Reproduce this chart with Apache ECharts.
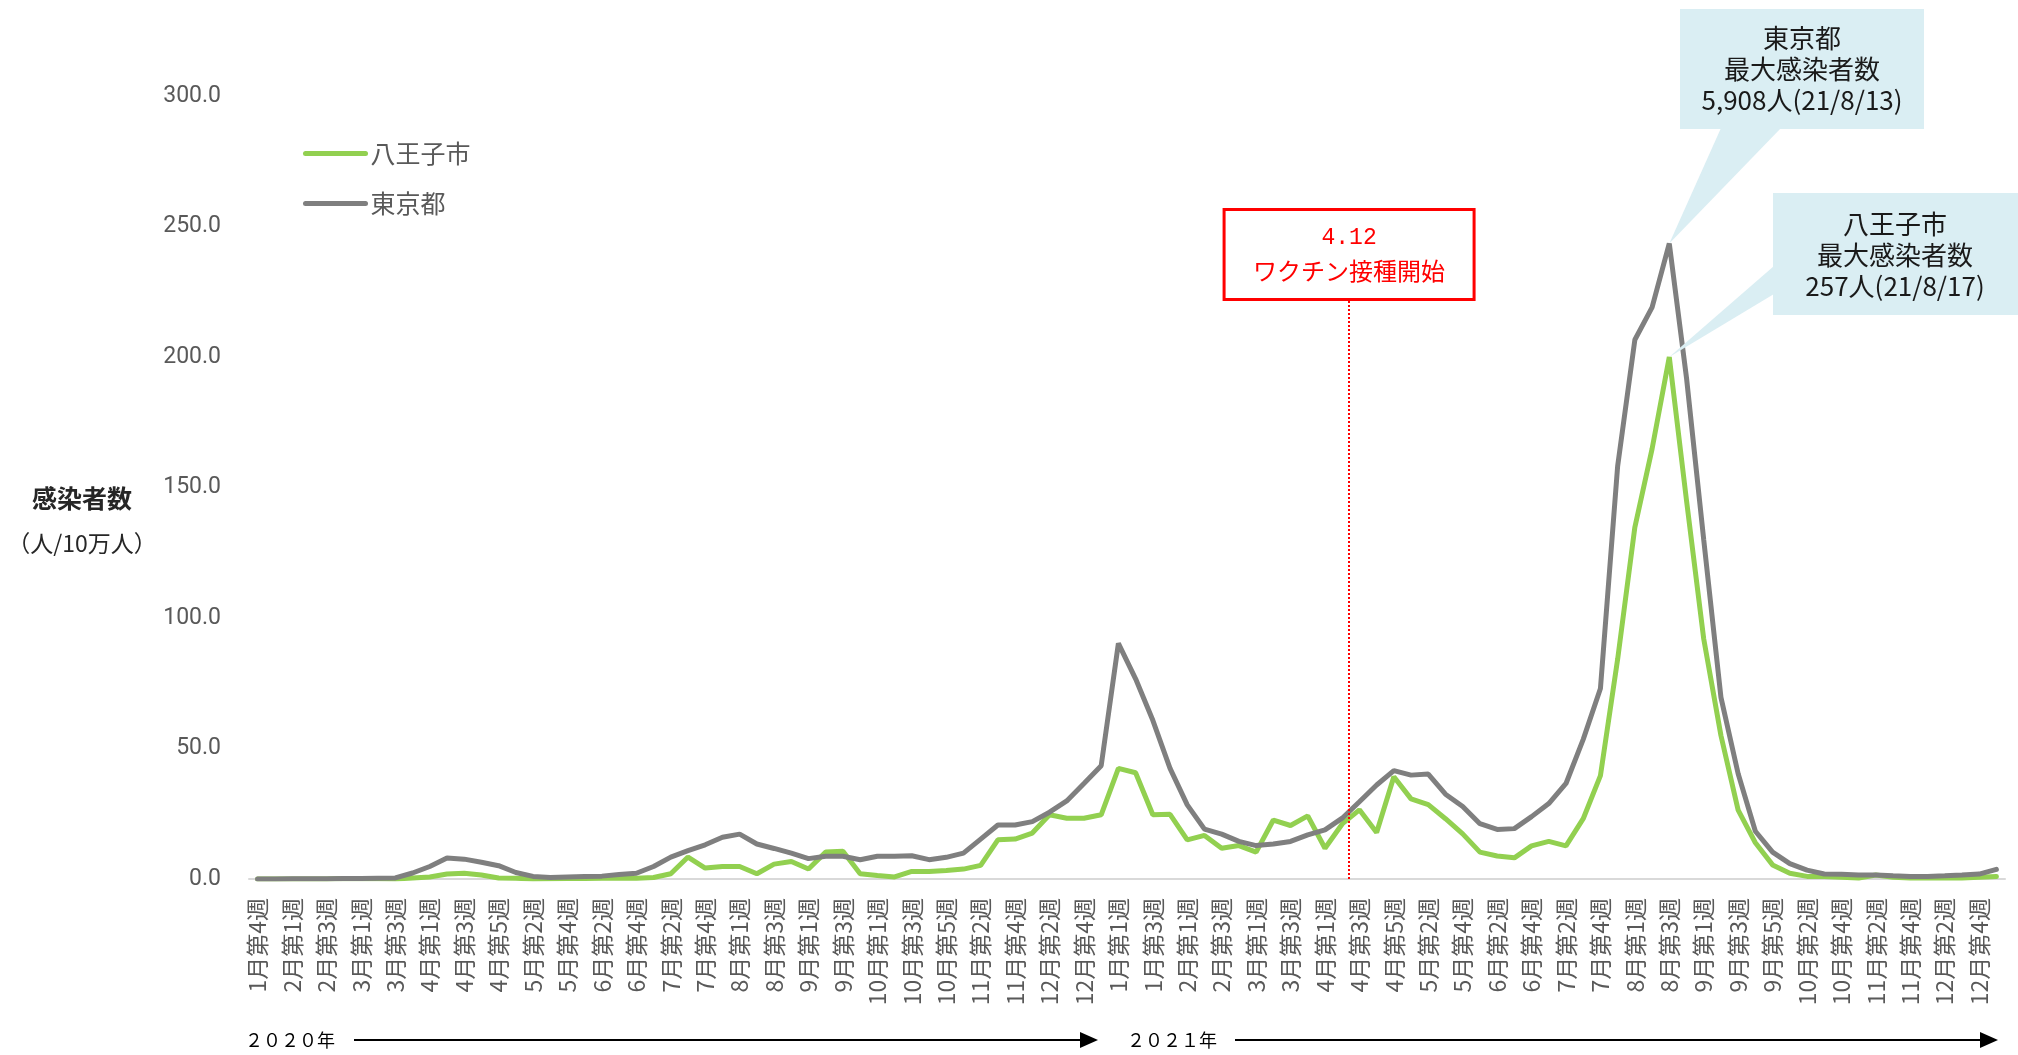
<!DOCTYPE html>
<html>
<head>
<meta charset="utf-8">
<script src="https://cdn.jsdelivr.net/npm/echarts@6/dist/echarts.min.js"></script>
<style>
  html, body { margin: 0; padding: 0; background: #fff; }
  #chart { width: 2018px; height: 1055px; }
</style>
</head>
<body>
<div id="chart"></div>
<script>
// weekly categories (every other one is labelled on the axis)
var weeks2020 = [
  "1月第4週", "1月第5週", "2月第1週", "2月第2週", "2月第3週", "2月第4週",
  "3月第1週", "3月第2週", "3月第3週", "3月第4週",
  "4月第1週", "4月第2週", "4月第3週", "4月第4週", "4月第5週",
  "5月第1週", "5月第2週", "5月第3週", "5月第4週",
  "6月第1週", "6月第2週", "6月第3週", "6月第4週",
  "7月第1週", "7月第2週", "7月第3週", "7月第4週", "7月第5週",
  "8月第1週", "8月第2週", "8月第3週", "8月第4週",
  "9月第1週", "9月第2週", "9月第3週", "9月第4週",
  "10月第1週", "10月第2週", "10月第3週", "10月第4週", "10月第5週",
  "11月第1週", "11月第2週", "11月第3週", "11月第4週",
  "12月第1週", "12月第2週", "12月第3週", "12月第4週", "12月第5週"
];
var weeks2021 = [
  "1月第1週", "1月第2週", "1月第3週", "1月第4週",
  "2月第1週", "2月第2週", "2月第3週", "2月第4週",
  "3月第1週", "3月第2週", "3月第3週", "3月第4週",
  "4月第1週", "4月第2週", "4月第3週", "4月第4週", "4月第5週",
  "5月第1週", "5月第2週", "5月第3週", "5月第4週",
  "6月第1週", "6月第2週", "6月第3週", "6月第4週",
  "7月第1週", "7月第2週", "7月第3週", "7月第4週", "7月第5週",
  "8月第1週", "8月第2週", "8月第3週", "8月第4週",
  "9月第1週", "9月第2週", "9月第3週", "9月第4週", "9月第5週",
  "10月第1週", "10月第2週", "10月第3週", "10月第4週",
  "11月第1週", "11月第2週", "11月第3週", "11月第4週",
  "12月第1週", "12月第2週", "12月第3週", "12月第4週", "12月第5週"
];

// infections per 100,000 people
var hachioji = [
  0, 0, 0, 0, 0, 0.2, 0.1, 0.1, 0, 0.4,
  0.8, 1.9, 2.2, 1.5, 0.4, 0.3, 0, 0.1, 0.2, 0.2,
  0.3, 0.3, 0.3, 0.6, 2.0, 8.4, 4.2, 4.8, 4.8, 2.0,
  5.7, 6.7, 3.8, 10.3, 10.6, 2.0, 1.3, 0.8, 2.9, 2.9,
  3.3, 3.8, 5.2, 15.0, 15.3, 17.6, 24.6, 23.3, 23.3, 24.6,
  42.4, 40.7, 24.6, 24.8, 15.0, 16.7, 11.8, 12.8, 10.3, 22.6,
  20.5, 24.2, 11.8, 21.1, 26.5, 17.8, 39.2, 30.7, 28.5, 23.1,
  17.3, 10.3, 8.8, 8.1, 12.7, 14.4, 12.7, 23.1, 39.6, 84.2,
  134.8, 164.8, 200.0, 145.0, 92.0, 55.0, 26.4, 13.9, 5.4, 2.2,
  1.0, 1.0, 0.7, 0.4, 1.5, 0.7, 0.4, 0.4, 0.4, 0.4,
  0.7, 1.0
];
var tokyo = [
  0, 0, 0.1, 0.1, 0.1, 0.2, 0.2, 0.3, 0.4, 2.3,
  4.8, 8.0, 7.6, 6.4, 5.1, 2.5, 1.0, 0.6, 0.8, 1.0,
  1.1, 1.7, 2.2, 4.8, 8.4, 10.9, 13.1, 16.0, 17.2, 13.4,
  11.7, 9.9, 7.8, 8.7, 8.7, 7.4, 8.7, 8.7, 8.9, 7.4,
  8.3, 9.9, 15.3, 20.7, 20.7, 22.0, 25.6, 29.9, 36.6, 43.4,
  90.3, 76.7, 60.8, 42.4, 28.4, 19.1, 17.2, 14.4, 12.8, 13.4,
  14.4, 16.9, 18.8, 23.3, 29.6, 36.0, 41.5, 39.8, 40.2, 32.5,
  27.8, 21.2, 19.0, 19.3, 23.9, 28.9, 36.6, 53.5, 73.0, 158.2,
  206.6, 219.0, 243.5, 192.0, 130.0, 69.6, 40.3, 18.3, 10.3, 5.9,
  3.4, 1.9, 1.8, 1.5, 1.5, 1.2, 1.0, 1.0, 1.2, 1.5,
  1.9, 3.7
];

var yMin = 0, yMax = 300, yStep = 50;
var categories = weeks2020.concat(weeks2021);
// 4/12 falls a little into the "4月第2週" slot
var vaccinePos = weeks2020.length + weeks2021.indexOf("4月第2週") + 0.4;
var vaccineLineTop = 222;   // value where the dotted line meets the note box

var green = "#92d050";
var grey = "#7f7f7f";
var noteFill = "#daeef3";
var cjk = "'Noto Sans CJK JP', 'Noto Sans', sans-serif";

var chart = echarts.init(document.getElementById("chart"));

chart.setOption({
  animation: false,
  backgroundColor: "#ffffff",
  grid: { left: 249, right: 13, top: 96, bottom: 176 },
  legend: {
    data: ["八王子市", "東京都"],
    orient: "vertical",
    left: 298,
    top: 136,
    itemWidth: 60,
    itemHeight: 24,
    itemGap: 25,
    itemStyle: { opacity: 0 },
    lineStyle: { width: 5, cap: "round" },
    textStyle: { color: "#595959", fontSize: 25, fontFamily: cjk }
  },
  xAxis: [{
    type: "category",
    data: categories,
    boundaryGap: true,
    axisLine: { lineStyle: { color: "#d9d9d9", width: 2 } },
    axisTick: { show: false },
    axisLabel: {
      interval: 1,
      rotate: 90,
      margin: 19,
      color: "#595959",
      fontSize: 23,
      fontFamily: cjk
    }
  }, {
    // hidden helper axis to place the vaccination marker between weeks
    type: "value",
    show: false,
    min: -0.5,
    max: categories.length - 0.5
  }],
  yAxis: {
    type: "value",
    min: yMin,
    max: yMax,
    interval: yStep,
    axisLine: { show: false },
    axisTick: { show: false },
    splitLine: { show: false },
    axisLabel: {
      margin: 28,
      color: "#595959",
      fontSize: 23,
      fontFamily: "Roboto, sans-serif",
      formatter: function(v) { return v.toFixed(1); }
    }
  },
  series: [
    {
      name: "八王子市",
      type: "line",
      data: hachioji,
      symbol: "none",
      z: 2,
      itemStyle: { color: green },
      lineStyle: { color: green, width: 5, cap: "round" }
    },
    {
      name: "東京都",
      type: "line",
      data: tokyo,
      symbol: "none",
      z: 3,
      itemStyle: { color: grey },
      lineStyle: { color: grey, width: 5, cap: "round" }
    },
    {
      name: "vaccine",
      type: "line",
      xAxisIndex: 1,
      data: [],
      markLine: {
        silent: true,
        symbol: ["none", "none"],
        label: { show: false },
        lineStyle: { color: "#ff0000", type: "dotted", width: 2 },
        data: [[
          { coord: [vaccinePos, yMin] },
          { coord: [vaccinePos, vaccineLineTop] }
        ]]
      }
    }
  ]
});

// notes are placed after the first render so their pointers hit the peaks
var tPeak = tokyo.indexOf(Math.max.apply(null, tokyo));
var hPeak = hachioji.indexOf(Math.max.apply(null, hachioji));
var tTip = chart.convertToPixel({ seriesIndex: 1 }, [tPeak, tokyo[tPeak]]);
var hTip = chart.convertToPixel({ seriesIndex: 0 }, [hPeak, hachioji[hPeak]]);
var vacTop = chart.convertToPixel({ seriesIndex: 2 }, [vaccinePos, vaccineLineTop]);

function arrow(x1, x2, y) {
  return [
    { type: "line", shape: { x1: x1, y1: y, x2: x2 - 14, y2: y }, style: { stroke: "#000", lineWidth: 2 } },
    { type: "polygon", shape: { points: [[x2 - 18, y - 8], [x2, y], [x2 - 18, y + 8]] }, style: { fill: "#000" } }
  ];
}

var graphics = [
  // axis title
  { type: "text", x: 82, y: 498, style: { text: "感染者数", font: "bold 25px " + cjk, fill: "#262626", align: "center", verticalAlign: "middle" } },
  { type: "text", x: 82, y: 543, style: { text: "（人/10万人）", font: "23px " + cjk, fill: "#262626", align: "center", verticalAlign: "middle" } },

  // Tokyo peak note
  { type: "polygon", z: 10, shape: { points: [[1721, 128], [1781, 128], tTip] }, style: { fill: noteFill } },
  { type: "rect", z: 10, shape: { x: 1680, y: 9, width: 244, height: 120 }, style: { fill: noteFill } },
  { type: "text", z: 11, x: 1802, y: 69, style: {
      text: "東京都\n最大感染者数\n5,908人(21/8/13)", font: "26px " + cjk, lineHeight: 31,
      fill: "#1a1a1a", align: "center", verticalAlign: "middle" } },

  // Hachioji peak note
  { type: "polygon", z: 10, shape: { points: [[1774, 266], [1774, 294], hTip] }, style: { fill: noteFill } },
  { type: "rect", z: 10, shape: { x: 1773, y: 193, width: 245, height: 122 }, style: { fill: noteFill } },
  { type: "text", z: 11, x: 1895, y: 255, style: {
      text: "八王子市\n最大感染者数\n257人(21/8/17)", font: "26px " + cjk, lineHeight: 31,
      fill: "#1a1a1a", align: "center", verticalAlign: "middle" } },

  // vaccination start note
  { type: "rect", z: 10, shape: { x: vacTop[0] - 125, y: vacTop[1] - 90, width: 250, height: 90 },
    style: { fill: "#fff", stroke: "#ff0000", lineWidth: 3 } },
  { type: "text", z: 11, x: vacTop[0], y: vacTop[1] - 62, style: {
      text: "4.12", font: "23px 'Liberation Mono', monospace", fill: "#ff0000", align: "center", verticalAlign: "middle" } },
  { type: "text", z: 11, x: vacTop[0], y: vacTop[1] - 29, style: {
      text: "ワクチン接種開始", font: "24px " + cjk, fill: "#ff0000", align: "center", verticalAlign: "middle" } },

  // years under the axis
  { type: "text", x: 245, y: 1040, style: { text: "２０２０年", font: "18px " + cjk, fill: "#000", align: "left", verticalAlign: "middle" } },
  { type: "text", x: 1127, y: 1040, style: { text: "２０２１年", font: "18px " + cjk, fill: "#000", align: "left", verticalAlign: "middle" } }
].concat(arrow(354, 1098, 1040), arrow(1235, 1998, 1040));

chart.setOption({ graphic: graphics });
</script>
</body>
</html>
